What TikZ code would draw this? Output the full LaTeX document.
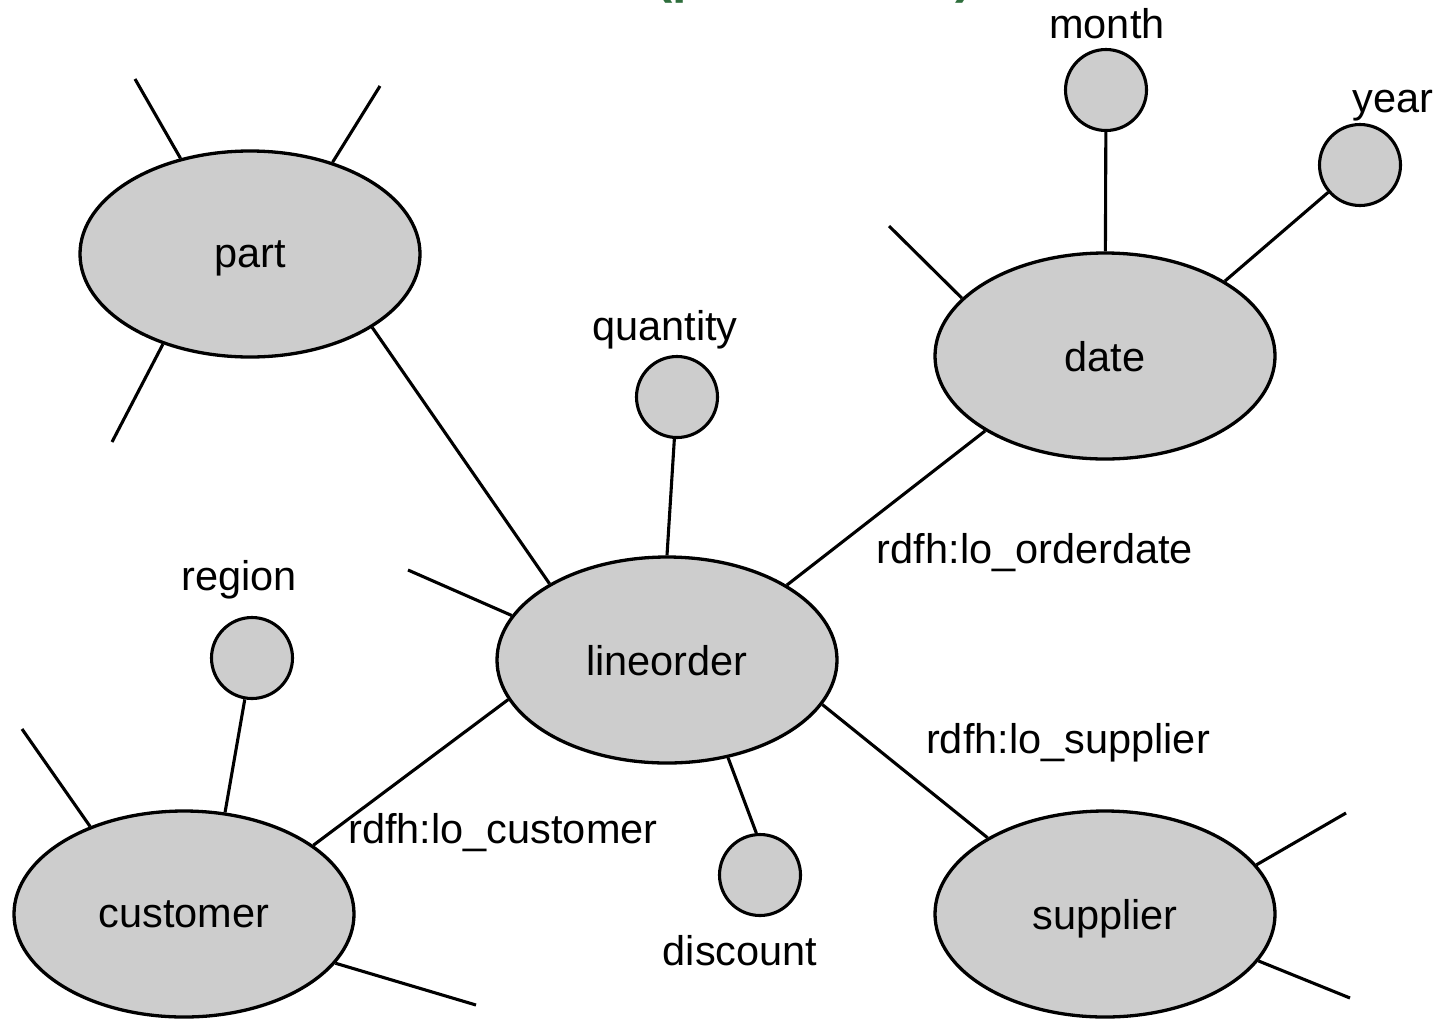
\documentclass[tikz,border=0pt]{standalone}
\usepackage{fontspec}
\setmainfont{Liberation Sans}
\usetikzlibrary{shapes.geometric}
\definecolor{entfill}{RGB}{205,205,205}
\definecolor{titlegreen}{RGB}{46,110,60}
\newcommand{\lblfont}{\fontsize{41.5}{48}\selectfont}

\begin{document}
\begin{tikzpicture}[x=1pt,y=-1pt,
  entity/.style={ellipse,draw,line width=3.3pt,fill=entfill,
    minimum width=340pt,minimum height=206pt,inner sep=0pt,
    text depth=0pt,font=\lblfont},
  attr/.style={circle,draw,line width=3.1pt,fill=entfill,
    minimum size=81pt,inner sep=0pt},
  link/.style={line width=3.1pt},
  lbl/.style={font=\lblfont,inner sep=0pt}]

\useasboundingbox (0,0) rectangle (1439,1018);

% title, mostly above the page edge
\node[anchor=base west,inner sep=0pt,text=titlegreen,
  font=\fontsize{52}{60}\selectfont\bfseries] (title) at (655,-8) {(partial view)};

% entities
\node[entity] (part)      at (250,254)  {part};
\node[entity] (date)      at (1105,356) {date};
\node[entity] (lineorder) at (667,660)  {lineorder};
\node[entity] (customer)  at (184,914)  {customer};
\node[entity] (supplier)  at (1105,914) {supplier};

% attributes
\node[attr] (month)    at (1106,90)  {};
\node[attr] (year)     at (1360,165) {};
\node[attr] (quantity) at (677,397)  {};
\node[attr] (region)   at (252,658)  {};
\node[attr] (discount) at (760,875)  {};

% attribute labels
\node[lbl] (monthlbl)    at (1107,24)  {month};
\node[lbl] (yearlbl)     at (1393,106) {year};
\node[lbl] (quantitylbl) at (665,330)  {quantity};
\node[lbl] (regionlbl)   at (239,580)  {region};
\node[lbl] (discountlbl) at (740,951)  {discount};

% property labels
\node[lbl] (orderdatelbl) at (1035,553) {rdfh:lo\_orderdate};
\node[lbl] (supplierlbl)  at (1068,743) {rdfh:lo\_supplier};
\node[lbl] (customerlbl)  at (503,833)  {rdfh:lo\_customer};

% free ends of the unlabeled stubs
\coordinate (pA) at (135,79);
\coordinate (pB) at (380,86);
\coordinate (pC) at (112,442);
\coordinate (dA) at (889,226);
\coordinate (lA) at (408,570);
\coordinate (cA) at (22,729);
\coordinate (cB) at (476,1005);
\coordinate (sA) at (1346,813);
\coordinate (sB) at (1350,998);

% connectors
\draw[link] (part.-31.7) -- (lineorder.147.8);
\draw[link] (date.-148.1) -- (lineorder.32);
\draw[link] (lineorder.194.4) -- (customer.28.2);
\draw[link] (lineorder.-16.2) -- (supplier.147.7);
\draw[link] (quantity) -- (lineorder.90);
\draw[link] (lineorder.-58.4) -- (discount.95);
\draw[link] (region) -- (customer.68.6);
\draw[link] (month) -- (date);
\draw[link] (year) -- (date.32.1);

% stubs
\draw[link] (pA) -- (part.126.8);
\draw[link] (pB) -- (part.48.3);
\draw[link] (pC) -- (part.226.6);
\draw[link] (dA) -- (date.158.2);
\draw[link] (lA) -- (lineorder.164.6);
\draw[link] (cA) -- (customer.137.5);
\draw[link] (cB) -- (customer.-18.2);
\draw[link] (sA) -- (supplier.18.3);
\draw[link] (sB) -- (supplier.-17.2);
\end{tikzpicture}
\end{document}
